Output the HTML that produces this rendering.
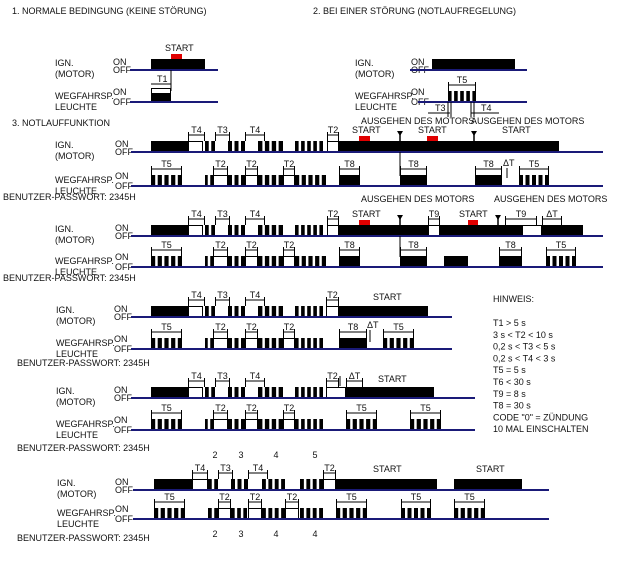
<!DOCTYPE html>
<html><head><meta charset="utf-8"><style>
html,body{margin:0;padding:0;background:#fff}
svg{display:block}
text{font-family:"Liberation Sans",sans-serif;font-size:9px;fill:#111}
</style></head><body>
<svg id="chart" width="623" height="569" viewBox="0 0 623 569" xmlns="http://www.w3.org/2000/svg"></svg>
<script>
// ---- data: segments [start, end, kind] (b=black on, w=on outlined, p=blink pulses) ----
const s1Ign=[[151,205,'b']];
const s2Ign=[[432,515,'b']];
const s2Weg=[[448,476,'p']];
const aIgn=[[151,188,'b'],[188,203,'w'],[205,215,'p'],[228,245,'p'],[258,283,'p'],[295,323,'p'],[327,339,'w'],[339,559,'b']];
const aWeg=[[151,182,'p'],[205,213,'p'],[213,228,'w'],[228,245,'p'],[245,258,'w'],[258,283,'p'],[283,295,'w'],[295,326,'p'],[339,360,'b'],[400,427,'b'],[475,502,'b'],[519,549,'p']];
const bIgn=[[151,188,'b'],[188,203,'w'],[205,215,'p'],[228,245,'p'],[258,283,'p'],[295,323,'p'],[327,339,'w'],[339,428,'b'],[428,440,'w'],[440,522,'b'],[522,542,'w'],[542,583,'b']];
const bWeg=[[151,182,'p'],[205,213,'p'],[213,228,'w'],[228,245,'p'],[245,258,'w'],[258,283,'p'],[283,295,'w'],[295,326,'p'],[339,360,'b'],[400,427,'b'],[444,468,'b'],[499,522,'b'],[546,576,'p']];
const cIgn=[[151,188,'b'],[188,203,'w'],[205,215,'p'],[228,245,'p'],[258,283,'p'],[295,323,'p'],[326,339,'w'],[339,428,'b']];
const cWeg=[[151,182,'p'],[205,213,'p'],[213,228,'w'],[228,245,'p'],[245,258,'w'],[258,283,'p'],[283,295,'w'],[295,323,'p'],[339,367,'b'],[383,414,'p']];
const dIgn=[[151,188,'b'],[188,203,'w'],[205,215,'p'],[228,245,'p'],[258,283,'p'],[295,323,'p'],[326,346,'w'],[346,434,'b']];
const dWeg=[[151,182,'p'],[205,213,'p'],[213,228,'w'],[228,245,'p'],[245,258,'w'],[258,283,'p'],[283,295,'w'],[295,323,'p'],[346,377,'p'],[410,441,'p']];
const eIgn=[[154,192,'b'],[192,208,'w'],[208,218,'p'],[231,248,'p'],[262,285,'p'],[300,323,'p'],[323,336,'w'],[336,437,'b'],[454,522,'b']];
const eWeg=[[154,185,'p'],[208,218,'p'],[218,231,'w'],[231,247,'p'],[248,262,'w'],[262,285,'p'],[285,299,'w'],[300,323,'p'],[336,367,'p'],[401,431,'p'],[454,485,'p']];
// brackets [x0,x1,label]
const aIgnBr=[[188,205,'T4'],[215,230,'T3'],[245,265,'T4'],[327,339,'T2']];
const aWegBr=[[151,182,'T5'],[213,228,'T2'],[245,258,'T2'],[283,295,'T2'],[339,360,'T8'],[400,427,'T8'],[475,502,'T8'],[519,549,'T5']];
const bIgnBr=[[188,205,'T4'],[215,230,'T3'],[245,265,'T4'],[327,339,'T2'],[428,440,'T9'],[505,537,'T9'],[542,562,'ΔT']];
const bWegBr=[[151,182,'T5'],[213,228,'T2'],[245,258,'T2'],[283,295,'T2'],[339,360,'T8'],[400,427,'T8'],[499,522,'T8'],[546,576,'T5']];
const cIgnBr=[[188,205,'T4'],[215,230,'T3'],[245,265,'T4'],[326,339,'T2']];
const cWegBr=[[151,182,'T5'],[213,228,'T2'],[245,258,'T2'],[283,295,'T2'],[339,367,'T8'],[383,414,'T5']];
const dIgnBr=[[188,205,'T4'],[215,230,'T3'],[245,265,'T4'],[326,339,'T2'],[346,363,'ΔT']];
const dWegBr=[[151,182,'T5'],[213,228,'T2'],[245,258,'T2'],[283,295,'T2'],[346,377,'T5'],[410,441,'T5']];
const eIgnBr=[[192,208,'T4'],[218,233,'T3'],[248,268,'T4'],[323,336,'T2']];
const eWegBr=[[154,185,'T5'],[218,231,'T2'],[248,262,'T2'],[285,299,'T2'],[336,367,'T5'],[401,431,'T5'],[454,485,'T5']];
const hinweis=['T1 > 5 s','3 s < T2 < 10 s','0,2 s < T3 < 5  s','0,2 s < T4 < 3 s','T5 = 5 s','T6 < 30 s','T9 = 8 s','T8 = 30 s','CODE "0" = ZÜNDUNG','10 MAL EINSCHALTEN'];
const digitsTop=['2','3','4','5'];
const digitsBot=['2','3','4','4'];
const digitX=[215,241,276,315];

const svg=document.getElementById('chart');
const NS='http://www.w3.org/2000/svg';
function el(tag,attrs,name){
  const e=document.createElementNS(NS,tag);
  for(const k in attrs) e.setAttribute(k,attrs[k]);
  
  
  svg.appendChild(e);return e;
}
function txt(x,y,s,name,extra){
  const t=el('text',Object.assign({x:x,y:y},extra||{}),name);
  t.textContent=s;return t;
}
const H=11;
function wave(base,x0,x1,segs,name){
  for(const [a,b,k] of segs){
    if(k==='b'){ el('rect',{x:a,y:base-H,width:b-a,height:H,fill:'#000'},name+'-on'); }
    else if(k==='w'){ el('rect',{x:a+0.5,y:base-H+0.5,width:b-a-1,height:H,fill:'#fff',stroke:'#000','stroke-width':1},name+'-on-outline'); }
    else {
      const n=Math.max(1,Math.round((b-a+2.5)/6.3));
      const pitch=(b-a+2.5)/n;
      for(let i=0;i<n;i++){ el('rect',{x:a+i*pitch,y:base-H,width:pitch-2.5,height:H,fill:'#000'},name+'-pulse'); }
    }
  }
  el('line',{x1:x0,y1:base,x2:x1,y2:base,stroke:'#1a1a78','stroke-width':2},name+'-baseline');
}
function brackets(base,list,name){
  const y=base-H-6;
  for(const [a,b,l] of list){
    el('line',{x1:a,y1:y,x2:b,y2:y,stroke:'#000','stroke-width':1},name+'-bracket');
    el('line',{x1:a+0.5,y1:y-3,x2:a+0.5,y2:base-H,stroke:'#000','stroke-width':1},name+'-bracket-tick');
    el('line',{x1:b-0.5,y1:y-3,x2:b-0.5,y2:base-H,stroke:'#000','stroke-width':1},name+'-bracket-tick');
    txt((a+b)/2,y-2,l,name+'-bracket-label',{'text-anchor':'middle','font-size':'8.5'});
  }
}
function labels(lx,ox,ignBase,wegBase,name){
  txt(lx,ignBase-4,'IGN.',name+'-ign-label');
  txt(lx,ignBase+7,'(MOTOR)',name+'-motor-label');
  txt(ox,ignBase-5,'ON',name+'-ign-on');
  txt(ox,ignBase+3,'OFF',name+'-ign-off');
  txt(lx,wegBase-3,'WEGFAHRSP.',name+'-weg-label');
  txt(lx,wegBase+8,'LEUCHTE',name+'-leuchte-label');
  txt(ox,wegBase-7,'ON',name+'-weg-on');
  txt(ox,wegBase+3,'OFF',name+'-weg-off');
}
function red(x0,x1,base,name){ el('rect',{x:x0,y:base-H-5,width:x1-x0,height:5,fill:'#e00000'},name); }
function marker(x,base,name){
  el('line',{x1:x,y1:base-20,x2:x,y2:base-H,stroke:'#000','stroke-width':1.5},name+'-stem');
  el('polygon',{points:(x-3)+','+(base-21)+' '+(x+3)+','+(base-21)+' '+x+','+(base-16)},name);
}

// headings
txt(12,14,'1. NORMALE BEDINGUNG (KEINE STÖRUNG)','heading-normal');
txt(313,14,'2. BEI EINER STÖRUNG (NOTLAUFREGELUNG)','heading-stoerung');
txt(12,126,'3. NOTLAUFFUNKTION','heading-notlauf');

// section 1
labels(55,113,70,102,'s1');
wave(70,130,218,s1Ign,'s1-ign');
red(171,182,70,'s1-start-marker');
txt(165,51,'START','s1-start-label');
el('line',{x1:171,y1:70,x2:171,y2:91,stroke:'#000','stroke-width':1},'s1-sync-line');
el('rect',{x:151,y:93,width:20,height:9,fill:'#000'},'s1-weg-on');
el('rect',{x:151.5,y:88.5,width:19,height:5,fill:'none',stroke:'#000'},'s1-weg-outline');
el('line',{x1:130,y1:102,x2:218,y2:102,stroke:'#1a1a78','stroke-width':2},'s1-weg-baseline');
el('line',{x1:151,y1:84,x2:171,y2:84,stroke:'#000'},'s1-t1-bracket');
txt(157,82,'T1','s1-t1-label');

// section 2
labels(355,411,70,102,'s2');
wave(70,410,527,s2Ign,'s2-ign');
wave(102,418,527,s2Weg,'s2-weg');
brackets(102,[[448,476,'T5']],'s2-weg');
el('line',{x1:428,y1:113,x2:450,y2:113,stroke:'#000'},'s2-t3-bracket');
txt(435,111,'T3','s2-t3-label');
el('line',{x1:471,y1:113,x2:499,y2:113,stroke:'#000'},'s2-t4-bracket');
txt(481,111,'T4','s2-t4-label');
[448,451,471,474].forEach(x=>el('line',{x1:x,y1:102,x2:x,y2:117,stroke:'#000'},'s2-sync-line'));

// chart A
labels(55,115,152,186,'a');
wave(152,131,603,aIgn,'a-ign'); brackets(152,aIgnBr,'a-ign');
red(359,370,152,'a-start-1'); red(427,438,152,'a-start-2');
marker(400,152,'a-motor-off-1'); marker(474,152,'a-motor-off-2');
el('line',{x1:400,y1:152,x2:400,y2:176,stroke:'#000'},'a-sync-line');
txt(361,124,'AUSGEHEN DES MOTORS','a-ausgehen-1'); txt(471,124,'AUSGEHEN DES MOTORS','a-ausgehen-2');
txt(352,133,'START','a-start-label-1'); txt(418,133,'START','a-start-label-2'); txt(502,133,'START','a-start-label-3');
wave(186,131,603,aWeg,'a-weg'); brackets(186,aWegBr,'a-weg');
el('line',{x1:507,y1:168,x2:507,y2:178,stroke:'#000'},'a-delta-tick'); txt(503,166,'ΔT','a-delta-label');
txt(3,200,'BENUTZER-PASSWORT: 2345H','a-passwort');

// chart B
labels(55,115,236,267,'b');
wave(236,131,603,bIgn,'b-ign'); brackets(236,bIgnBr,'b-ign');
red(359,370,236,'b-start-1'); red(468,478,236,'b-start-2');
marker(400,236,'b-motor-off-1'); marker(498,236,'b-motor-off-2');
el('line',{x1:400,y1:236,x2:400,y2:257,stroke:'#000'},'b-sync-line');
txt(361,202,'AUSGEHEN DES MOTORS','b-ausgehen-1'); txt(494,202,'AUSGEHEN DES MOTORS','b-ausgehen-2');
txt(352,217,'START','b-start-label-1'); txt(459,217,'START','b-start-label-2');
wave(267,131,603,bWeg,'b-weg'); brackets(267,bWegBr,'b-weg');
txt(3,281,'BENUTZER-PASSWORT: 2345H','b-passwort');

// chart C
labels(56,114,317,349,'c');
wave(317,131,452,cIgn,'c-ign'); brackets(317,cIgnBr,'c-ign');
txt(373,300,'START','c-start-label');
wave(349,131,452,cWeg,'c-weg'); brackets(349,cWegBr,'c-weg');
el('line',{x1:370,y1:330,x2:370,y2:342,stroke:'#000'},'c-delta-tick'); txt(367,328,'ΔT','c-delta-label');
txt(17,366,'BENUTZER-PASSWORT: 2345H','c-passwort');

// chart D
labels(56,114,398,430,'d');
wave(398,131,475,dIgn,'d-ign'); brackets(398,dIgnBr,'d-ign');
el('line',{x1:340,y1:376,x2:340,y2:386,stroke:'#000'},'d-delta-tick');
txt(378,382,'START','d-start-label');
wave(430,131,475,dWeg,'d-weg'); brackets(430,dWegBr,'d-weg');
txt(17,451,'BENUTZER-PASSWORT: 2345H','d-passwort');
digitsTop.forEach((d,i)=>txt(digitX[i],458,d,'digit-top',{'font-size':'11','fill':'#2a2a8a','text-anchor':'middle'}));

// chart E
labels(57,115,490,519,'e');
wave(490,133,549,eIgn,'e-ign'); brackets(490,eIgnBr,'e-ign');
txt(373,472,'START','e-start-label-1'); txt(476,472,'START','e-start-label-2');
wave(519,133,549,eWeg,'e-weg'); brackets(519,eWegBr,'e-weg');
txt(17,541,'BENUTZER-PASSWORT: 2345H','e-passwort');
digitsBot.forEach((d,i)=>txt(digitX[i],537,d,'digit-bottom',{'font-size':'11','fill':'#2a2a8a','text-anchor':'middle'}));

// hinweis
txt(493,302,'HINWEIS:','hinweis-title');
hinweis.forEach((h,i)=>txt(493,326+i*11.8,h,'hinweis-item'));
</script>
</body></html>
